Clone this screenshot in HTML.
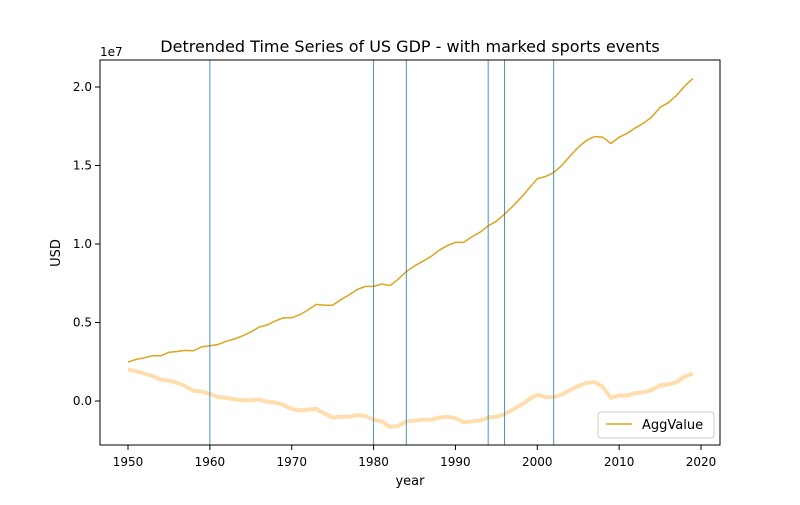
<!DOCTYPE html>
<html><head><meta charset="utf-8"><style>
body{margin:0;background:#fff;font-family:"Liberation Sans","DejaVu Sans",sans-serif}
svg text{font-family:"DejaVu Sans","Liberation Sans",sans-serif}
</style></head><body>
<svg id="chart" width="800" height="500" xmlns="http://www.w3.org/2000/svg">
<rect width="800" height="500" fill="#fff"/>
<text x="410" y="52" font-size="16" text-anchor="middle">Detrended Time Series of US GDP - with marked sports events</text>
<g id="plot"></g>
<rect x="100" y="60" width="620" height="385" fill="none" stroke="#000" stroke-width="1"/>
<text x="100" y="56" font-size="12">1e7</text>
<text x="410" y="485" font-size="13" text-anchor="middle">year</text>
<text x="60" y="253" font-size="13" text-anchor="middle" transform="rotate(-90 60 253)">USD</text>
<g>
<rect x="598" y="412" width="116" height="26" rx="3" fill="#fff" stroke="#ccc"/>
<line x1="606" y1="424" x2="632" y2="424" stroke="#daa520" stroke-width="1.5"/>
<text x="642" y="429" font-size="13">AggValue</text>
</g>
</svg>
<script>
const years = [];
for (let y = 1950; y <= 2019; y++) years.push(y);
const gdp = [0.248,0.265,0.275,0.288,0.288,0.31,0.315,0.322,0.32,0.345,0.352,0.36,0.38,0.395,0.415,0.44,0.47,0.485,0.51,0.53,0.53,0.55,0.58,0.615,0.61,0.61,0.645,0.675,0.71,0.73,0.73,0.745,0.735,0.775,0.825,0.86,0.89,0.92,0.96,0.99,1.01,1.01,1.045,1.075,1.115,1.145,1.19,1.24,1.295,1.355,1.415,1.43,1.455,1.5,1.56,1.615,1.66,1.685,1.68,1.64,1.68,1.705,1.74,1.77,1.81,1.87,1.9,1.945,2.005,2.055];
const detrended = [0.2,0.19,0.175,0.16,0.135,0.13,0.115,0.095,0.065,0.06,0.045,0.025,0.02,0.01,0.005,0.005,0.01,-0.005,-0.01,-0.025,-0.05,-0.06,-0.055,-0.05,-0.08,-0.105,-0.1,-0.1,-0.09,-0.095,-0.12,-0.13,-0.165,-0.16,-0.13,-0.125,-0.12,-0.12,-0.105,-0.1,-0.11,-0.135,-0.13,-0.125,-0.105,-0.1,-0.085,-0.055,-0.025,0.01,0.04,0.025,0.025,0.04,0.07,0.095,0.115,0.12,0.09,0.02,0.035,0.035,0.05,0.055,0.07,0.1,0.105,0.12,0.155,0.175];
const events = [1960,1980,1984,1994,1996,2002];
const xTicks = [1950,1960,1970,1980,1990,2000,2010,2020];
const yTicks = [0,0.5,1.0,1.5,2.0];
const yTickLabels = ["0.0","0.5","1.0","1.5","2.0"];

const NS = "http://www.w3.org/2000/svg";
const X = y => 128 + (y - 1950) * (573 / 70);
const Y = v => 401 - v * 157;
const g = document.getElementById('plot');
function mk(tag, attrs){const e=document.createElementNS(NS,tag);for(const k in attrs)e.setAttribute(k,attrs[k]);g.appendChild(e);return e;}

xTicks.forEach(t=>{
  const l=mk('line',{x1:X(t),x2:X(t),y1:445,y2:450,stroke:'#000'});
  
  
  const tx=mk('text',{x:X(t),y:466,'font-size':12,'text-anchor':'middle'});tx.textContent=t;
  
  
});
yTicks.forEach((t,i)=>{
  const l=mk('line',{x1:95,x2:100,y1:Y(t),y2:Y(t),stroke:'#000'});
  
  
  const tx=mk('text',{x:92,y:Y(t)+4,'font-size':12,'text-anchor':'end'});tx.textContent=yTickLabels[i];
  
  
});
const pts = arr => arr.map((v,i)=>X(years[i]).toFixed(1)+','+Y(v).toFixed(1)).join(' ');
const d = mk('polyline',{points:pts(detrended),fill:'none',stroke:'#ffdead',"stroke-width":4,"stroke-linejoin":'round'});


const m = mk('polyline',{points:pts(gdp),fill:'none',stroke:'#daa520',"stroke-width":1.5});


events.forEach(e=>{
  const l=mk('line',{x1:X(e),x2:X(e),y1:60,y2:445,stroke:'#1f77b4','stroke-opacity':0.8,'stroke-width':1});
  
  
});
</script>
</body></html>
